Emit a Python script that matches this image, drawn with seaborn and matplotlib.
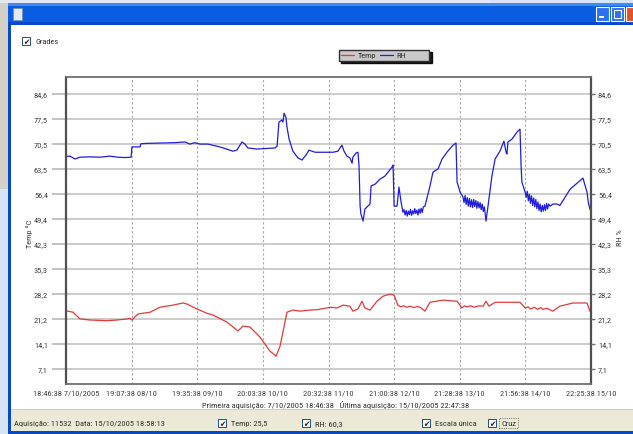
import numpy as np
import pandas as pd
import matplotlib
matplotlib.use("Agg")
import matplotlib.pyplot as plt
from matplotlib.patches import Rectangle
from matplotlib.lines import Line2D
from matplotlib import font_manager
import seaborn as sns

# ----------------------------
# Dados (horas desde 7/10/2005 18:46:38)
# ----------------------------
temp_hours = [0, 2.6, 5.2, 9.0, 15.3, 19.0, 22.8, 23.9, 24.6, 26.9, 31.4, 35.1, 39.9, 43.7,
              45.2, 48.9, 52.6, 54.9, 60.1, 64.2, 66.1, 68.7, 72.4, 76.2, 78.4, 79.9, 82.5,
              84.7, 87.4, 91.1, 93.7, 97.4, 98.6, 101.2, 103.4, 106.0, 107.1, 109.0, 110.5,
              111.6, 113.5, 116.1, 118.3, 121.0, 122.5, 123.9, 125.0, 126.0, 127.3, 128.5,
              130.0, 131.0, 132.2, 134.0, 135.9, 140.7, 146.0, 147.8, 148.8, 149.7, 151.0,
              152.5, 154.0, 155.7, 156.8, 157.9, 160.2, 169.5, 171.4, 172.5, 173.5, 174.8,
              176.0, 177.2, 178.1, 179.5, 181.8, 184.4, 189.3, 194.5, 195.6, 196.0]
temp_values = [23.5, 23.1, 21.2, 20.9, 20.7, 20.9, 21.2, 21.4, 20.9, 22.6, 23.1, 24.5, 25.1, 25.7,
               25.4, 24.0, 22.8, 22.3, 20.3, 17.8, 19.2, 18.9, 16.1, 12.1, 10.7, 13.5, 23.1,
               23.7, 23.4, 23.7, 23.8, 24.3, 24.5, 24.3, 25.1, 24.8, 23.4, 24.0, 26.2,
               24.3, 23.7, 26.2, 27.6, 28.2, 27.9, 25.1, 24.6, 24.9, 24.5, 24.8,
               24.4, 24.7, 24.5, 23.4, 25.9, 26.5, 26.2, 24.3, 24.9, 24.6, 24.9,
               24.5, 24.9, 24.8, 26.2, 24.8, 25.9, 25.9, 24.3, 24.6, 24.0, 24.5,
               23.9, 24.4, 23.9, 24.2, 23.4, 24.8, 25.7, 25.7, 23.4, 23.3]

rh_hours = [0, 1.5, 3.4, 5.2, 9.0, 12.7, 16.4, 19.4, 22.0, 24.3, 24.6, 27.6, 28.0, 30.2, 35.1,
            40.7, 44.4, 46.3, 48.0, 50.0, 53.0, 57.5, 62.3, 63.8, 65.7, 66.8, 67.9, 71.3,
            78.0, 78.8, 79.5, 80.6, 81.0, 81.4, 82.1, 82.5, 83.3, 84.7, 86.6, 88.1, 89.6,
            90.7, 93.0, 99.7, 101.5, 103.0, 103.8, 104.9, 106.0, 106.8, 107.1, 108.3,
            109.0, 109.4, 109.8, 110.1, 110.9, 111.6, 113.5, 113.9, 115.4, 117.2, 119.1,
            121.7, 122.1, 122.5, 123.6, 124.3, 125.1, 125.8,
            126.2, 126.6, 127.0, 127.4, 127.8, 128.2, 128.6, 129.0, 129.4, 129.8, 130.2,
            130.6, 131.0, 131.4, 131.8, 132.2, 132.6, 133.0, 133.4, 134.0,
            135.9, 137.0, 138.9, 140.4, 142.2, 144.5, 145.6, 146.0, 147.1, 148.2,
            148.6, 149.0, 149.4, 149.8, 150.2, 150.6, 151.0, 151.4, 151.8, 152.2, 152.6,
            153.0, 153.4, 153.8, 154.2, 154.6, 155.0, 155.4, 155.8, 156.2, 156.8,
            157.5, 159.0, 160.2, 162.0, 163.5, 164.3, 164.6, 165.0, 166.5, 168.4, 169.5,
            169.9, 170.2, 171.4,
            171.8, 172.2, 172.6, 173.0, 173.4, 173.8, 174.2, 174.6, 175.0, 175.4, 175.8,
            176.2, 176.6, 177.0, 177.4, 177.8, 178.2, 178.6, 179.0, 179.4, 179.8, 180.2, 180.7,
            181.8, 183.3, 184.4, 188.2, 193.0, 194.5, 195.0, 195.6, 196.0]
rh_values = [67.0, 67.1, 66.3, 66.8, 66.9, 66.8, 67.1, 66.8, 66.7, 66.8, 69.7, 69.7, 70.6, 70.7, 70.8,
             70.9, 71.1, 70.5, 70.9, 70.5, 70.5, 69.7, 68.5, 68.8, 71.1, 70.5, 69.4, 69.1,
             69.4, 69.9, 76.7, 77.3, 76.7, 79.2, 78.1, 75.3, 71.9, 68.5, 66.6, 66.0, 67.4,
             68.8, 68.2, 68.2, 68.5, 70.2, 68.5, 67.1, 66.6, 65.1, 66.8, 68.0,
             68.2, 64.3, 53.0, 50.8, 48.8, 52.2, 53.6, 58.7, 59.2, 60.6, 61.5,
             64.0, 64.6, 53.0, 53.0, 58.4, 54.1, 51.3,
             52.0, 50.5, 51.8, 50.2, 51.6, 50.6, 52.1, 50.4, 51.7, 50.8, 52.3,
             50.9, 51.9, 50.5, 52.2, 51.0, 52.4, 51.2, 52.8, 53.0,
             58.7, 62.6, 63.5, 66.3, 68.2, 70.2, 70.8, 59.8, 57.0, 55.6,
             54.0, 56.0, 53.5, 55.4, 53.0, 55.2, 52.8, 54.8, 52.6, 54.9, 52.9,
             54.6, 52.4, 54.3, 52.5, 54.0, 52.0, 53.6, 51.5, 52.8, 48.8,
             52.7, 61.5, 66.3, 68.5, 71.3, 68.2, 67.7, 71.1, 71.9, 73.9, 74.7,
             64.3, 59.8, 57.0,
             55.5, 57.2, 54.5, 56.4, 53.8, 55.9, 53.2, 55.3, 52.8, 54.9, 52.3,
             54.2, 51.8, 53.6, 51.4, 53.2, 51.6, 53.4, 51.8, 53.8, 52.2, 53.6, 53.0,
             53.6, 53.6, 53.2, 57.8, 60.9, 57.0, 54.0, 52.2, 51.6]

x_tick_labels = ["18:46:38 7/10/2005", "19:07:38 08/10", "19:35:38 09/10", "20:03:38 10/10",
                 "20:32:38 11/10", "21:00:38 12/10", "21:28:38 13/10", "21:56:38 14/10",
                 "22:25:38 15/10"]
y_tick_values = [7.05, 14.1, 21.15, 28.2, 35.25, 42.3, 49.35, 56.4, 63.45, 70.5, 77.55, 84.6]
y_tick_labels = ["7,1", "14,1", "21,2", "28,2", "35,3", "42,3", "49,4", "56,4", "63,5",
                 "70,5", "77,5", "84,6"]

df_temp = pd.DataFrame({"horas": temp_hours, "valor": temp_values})
df_rh = pd.DataFrame({"horas": rh_hours, "valor": rh_values})

# ----------------------------
# Estilo / fontes (procura uma fonte estreita)
# ----------------------------
sns.set_style("white")
lista = font_manager.fontManager.ttflist
nomes = {f.name for f in lista}
estreita = None
for nome in ["Liberation Sans Narrow", "Roboto Condensed", "Open Sans Condensed"]:
    if nome in nomes:
        estreita = nome
        break
if estreita is None and any(f.name == "DejaVu Sans" and "condensed" in str(f.stretch)
                             for f in lista):
    estreita = "DejaVu Sans"
    plt.rcParams["font.stretch"] = "condensed"

if estreita is None:
    plt.rcParams["font.family"] = ["DejaVu Sans"]
    fs = 4.8
else:
    plt.rcParams["font.family"] = [estreita, "DejaVu Sans"]
    fs = 6.0

W, H = 633, 435
fig = plt.figure(figsize=(W / 100, H / 100), dpi=100)
fig.patch.set_facecolor("#D4D0C8")


def rect(x0, y0, x1, y1, color, z=-5, **kw):
    # retângulo em pixels (origem no canto superior esquerdo)
    kw.setdefault("linewidth", 0)
    fig.patches.append(Rectangle((x0 / W, 1 - y1 / H), (x1 - x0) / W, (y1 - y0) / H,
                                 transform=fig.transFigure, facecolor=color,
                                 zorder=z, **kw))


def txt(x, y, s, **kw):
    kw.setdefault("fontsize", fs)
    kw.setdefault("color", "#303030")
    kw.setdefault("va", "center")
    return fig.text(x / W, 1 - y / H, s, **kw)


# fundo da outra janela
rect(0, 0, W, 4, "#E4E8EE")
rect(490, 0, W, 4, "#D6E6F8")
rect(0, 190, 8, H, "#D6E4F5")
# janela
rect(8, 4, W, H, "#0A5CE0")
rect(8, 4, W, 7, "#3E8CF2")
rect(8, 23, W, 26, "#0848C8")
rect(8, 26, 11, H, "#0848C8")
rect(11, 26, W, 410, "#FFFFFF")
rect(11, 410, W, 432, "#ECE9D8")
rect(11, 410, W, 411, "#D0CCC0")
rect(8, 432, W, H, "#0848C8")
# ícone e botões da barra de título
rect(13, 9, 22, 21, "#E8E8F0", z=-4, edgecolor="#7090C0", linewidth=0.6)
rect(596, 8, 609, 22, "#2C72F0", z=-4, edgecolor="white", linewidth=0.8)
rect(611, 8, 624, 22, "#2C72F0", z=-4, edgecolor="white", linewidth=0.8)
rect(626, 8, 640, 22, "#E0532C", z=-4, edgecolor="white", linewidth=0.8)
rect(599, 17, 604, 19, "white", z=-3)
rect(614, 11, 621, 19, "none", z=-3, edgecolor="white", linewidth=0.8)

# ----------------------------
# Gráfico
# ----------------------------
ax = fig.add_axes([66 / W, 1 - 384.5 / H, 525 / W, 306.8 / H])
ax.set_facecolor("white")
sns.lineplot(data=df_temp, x="horas", y="valor", ax=ax, color="#E03A3A", linewidth=0.9,
             label="Temp")
sns.lineplot(data=df_rh, x="horas", y="valor", ax=ax, color="#1E1ED8", linewidth=0.9,
             label="RH")

ax.set_xlim(0, 196)
ax.set_ylim(3.0, 89.5)
ax.set_xticks(np.linspace(0, 196, len(x_tick_labels)))
ax.set_xticklabels(x_tick_labels)
ax.set_yticks(y_tick_values)
ax.set_yticklabels(y_tick_labels)
ax.grid(axis="y", color="#C4C4C4", linewidth=1.2)
ax.grid(axis="x", color="#A8A8A8", linewidth=0.8, linestyle=(0, (2, 2)))
ax.set_axisbelow(True)
ax.tick_params(axis="y", left=True, length=10, width=1.2, color="#B8B8B8", pad=3,
               labelsize=fs, labelcolor="#404040")
ax.tick_params(axis="x", length=0, pad=4, labelsize=fs, labelcolor="#404040")
for lado in ["left", "right"]:
    ax.spines[lado].set_color("#505050")
    ax.spines[lado].set_linewidth(1.6)
for lado in ["top", "bottom"]:
    ax.spines[lado].set_color("#707070")
    ax.spines[lado].set_linewidth(1.3)
ax.set_xlabel("")
ax.set_ylabel("Temp ºC", fontsize=fs, color="#404040")
ax.yaxis.set_label_coords(-0.062, 0.49)

ax2 = ax.twinx()
ax2.set_ylim(ax.get_ylim())
ax2.set_yticks(y_tick_values)
ax2.set_yticklabels(y_tick_labels)
ax2.tick_params(axis="y", right=True, length=3, width=1.0, color="#707070", pad=2,
                labelsize=fs, labelcolor="#404040")
ax2.set_ylabel("RH %", fontsize=fs, color="#404040")
ax2.yaxis.set_label_coords(1.05, 0.48)
for s in ax2.spines.values():
    s.set_visible(False)

# legenda com espaço vazio à direita, como na janela original
alcas, nomes_leg = ax.get_legend_handles_labels()
alcas.append(Line2D([], [], color="none"))
nomes_leg.append("")
leg = ax.legend(alcas, nomes_leg, loc="center", bbox_to_anchor=(384 / W, 1 - 56 / H),
                bbox_transform=fig.transFigure, ncol=3, fontsize=fs, frameon=True,
                fancybox=False, shadow={"color": "black", "alpha": 0.9, "ox": 2, "oy": -2},
                facecolor="#C8C8C8", edgecolor="#303030", framealpha=1,
                handlelength=1.6, handletextpad=0.4, columnspacing=0.5,
                borderpad=0.25, borderaxespad=0)
for t in leg.get_texts():
    t.set_color("#303030")

# ----------------------------
# Textos da janela
# ----------------------------
def caixa(x, y):
    rect(x - 4, y - 4, x + 4, y + 4, "white", z=2, edgecolor="#1C5180", linewidth=0.7)
    txt(x + 0.3, y + 0.3, "✔", fontsize=5.5, ha="center", family="DejaVu Sans",
        color="#202020", zorder=3)


caixa(26, 42)
txt(36, 42, "Grades")
txt(336, 405, "Primeira aquisição: 7/10/2005 18:46:38   Última aquisição: 15/10/2005 22:47:38",
    ha="center")
txt(14, 424, "Aquisição: 11532  Data: 15/10/2005 18:58:13")
caixa(222, 424)
txt(231, 424, "Temp: 25,5")
caixa(306, 424)
txt(315, 424, "RH: 60,3")
caixa(426, 424)
txt(435, 424, "Escala única")
caixa(492, 424)
txt(501, 424, "Cruz", bbox=dict(facecolor="none", edgecolor="#404040", linestyle=":",
                                 linewidth=0.6, pad=1.2))

fig.savefig("out.png", dpi=100)
